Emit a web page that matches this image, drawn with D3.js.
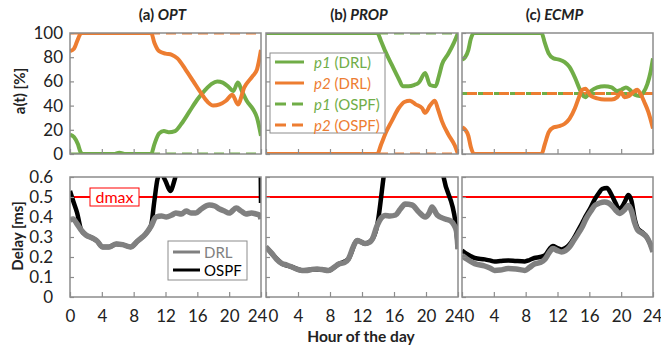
<!DOCTYPE html>
<html>
<head>
<meta charset="utf-8">
<script src="https://cdn.jsdelivr.net/npm/d3@7"></script>
<style>
  body { margin: 0; background: #fff; }
  svg { display: block; font-family: Lato, "Open Sans", sans-serif; }
</style>
</head>
<body>
<div id="chart"></div>
<script>
// hours on x, share [%] on top row, delay [ms] on bottom row

var hourTicks = [0, 4, 8, 12, 16, 20, 24];
var shareTicks = [0, 20, 40, 60, 80, 100];
var delayTicks = [0, 0.1, 0.2, 0.3, 0.4, 0.5, 0.6];
var panelTitles = ["(a) ", "(b) ", "(c) "];
var panelNames = ["OPT", "PROP", "ECMP"];
var dmax = 0.5;

// ---- a(t) series, [hour, %] ----
var optP1Drl = [[0,16],[0.5,14],[1,8],[1.3,2],[1.6,0],[5.5,0],[6.2,1],[7,0],[10.2,0],[10.6,8],[11.2,17],[11.8,19],[12.4,18],[13.2,19],[14,25],[15,35],[16,45],[17,53],[17.8,58],[18.5,60],[19.2,59],[20,55],[20.5,52],[21.1,59],[21.6,52],[22.2,44],[23,37],[23.5,30],[24,15]];
var optP2Drl = [[0,85],[0.5,87],[1,95],[1.4,100],[10.2,100],[10.6,92],[11.2,85],[12,83],[12.8,82],[13.5,79],[14.5,70],[15.5,60],[16.5,50],[17.3,43],[18,40],[18.8,41],[19.6,44],[20.4,49],[21.1,41],[21.9,55],[22.9,64],[23.5,70],[24,86]];
var optP1Ospf = [[0,0],[24,0]];
var optP2Ospf = [[0,100],[24,100]];

var propP1Drl = [[0,100],[13.9,100],[14.4,93],[14.9,85],[15.7,74],[16.6,62],[17.1,56],[17.8,56],[18.5,57],[19.1,59],[19.9,67],[20.5,57],[21.2,56],[21.6,64],[22,74],[22.8,83],[23.5,92],[24,100]];
var propP2Drl = [[0,0],[13.9,0],[14.4,8],[15,18],[15.7,27],[16.6,38],[17.3,43],[18,44],[18.7,41],[19.5,38],[19.9,34],[20.5,40],[21.1,44],[21.5,37],[22,27],[22.8,16],[23.6,7],[24,0]];
var propP1Ospf = [[0,100],[24,100]];
var propP2Ospf = [[0,0],[24,0]];

var ecmpP1Drl = [[0,78],[0.4,80],[0.8,86],[1.1,95],[1.5,100],[10,100],[10.4,92],[10.9,83],[11.5,79],[12.2,78],[12.9,76],[13.5,72],[14.2,63],[14.7,55],[15.1,49],[15.5,47],[16.2,52],[17,55],[17.9,56],[18.8,55],[19.5,52],[20,53],[20.6,55],[21.1,53],[21.7,49],[22.3,48],[22.8,51],[23.3,58],[23.7,68],[24,79]];
var ecmpP2Drl = [[0,22],[0.4,20],[0.8,15],[1.1,6],[1.5,0],[10,0],[10.4,8],[10.9,18],[11.5,22],[12.2,23],[12.9,25],[13.5,29],[14.2,38],[14.7,47],[15.1,53],[15.5,54],[16.2,48],[17,46],[17.9,45],[18.8,45],[19.5,47],[20,51],[20.4,47],[21,48],[21.5,51],[22,53],[22.4,50],[22.9,43],[23.4,35],[24,21]];
var ecmpP1Ospf = [[0,50],[24,50]];
var ecmpP2Ospf = [[0,50],[24,50]];

// ---- delay series, [hour, ms] ----
var optDelayDrl = [[0,0.385],[0.4,0.39],[0.8,0.37],[1.4,0.335],[2,0.31],[2.8,0.295],[3.4,0.28],[4.1,0.25],[4.9,0.25],[5.8,0.265],[6.6,0.262],[7.6,0.25],[8.5,0.28],[9.5,0.315],[10.2,0.355],[10.8,0.4],[11.5,0.405],[12.1,0.4],[12.8,0.41],[13.3,0.42],[14,0.415],[14.6,0.43],[15.2,0.42],[15.8,0.42],[16.5,0.44],[17.5,0.46],[18.2,0.455],[18.8,0.44],[19.4,0.43],[20,0.42],[20.9,0.445],[21.5,0.43],[22.1,0.415],[22.8,0.42],[23.4,0.415],[23.8,0.41],[24,0.39]];
var optDelayOspf = [[0,0.53],[0.4,0.48],[0.9,0.42],[1.4,0.335],[2,0.31],[2.8,0.295],[3.4,0.28],[4.1,0.25],[4.9,0.25],[5.8,0.265],[6.6,0.262],[7.6,0.25],[8.5,0.28],[9.5,0.315],[10.2,0.36],[10.6,0.48],[11,0.59],[11.4,0.62],[12,0.58],[12.6,0.53],[13.1,0.58],[13.6,0.66],[14.2,0.75],[23.5,0.75],[23.95,0.65],[24,0.47]];

var propDelayDrl = [[0,0.25],[0.75,0.217],[1.3,0.19],[2,0.167],[2.6,0.16],[3.25,0.15],[3.8,0.14],[4.5,0.133],[5.2,0.133],[5.75,0.138],[6.4,0.14],[7,0.137],[7.8,0.133],[8.5,0.148],[9.1,0.165],[9.8,0.172],[10.3,0.19],[10.9,0.25],[11.4,0.283],[11.9,0.275],[12.4,0.267],[13,0.275],[13.3,0.29],[13.9,0.358],[14.4,0.395],[14.9,0.408],[15.5,0.405],[16.2,0.41],[16.8,0.44],[17.4,0.465],[18.25,0.46],[19.1,0.425],[19.9,0.4],[20.4,0.42],[20.75,0.45],[21.4,0.41],[22.4,0.39],[23.1,0.38],[23.5,0.36],[23.8,0.33],[24,0.24]];
var propDelayOspf = [[0,0.25],[0.75,0.217],[2,0.167],[3.25,0.15],[4.5,0.133],[5.75,0.138],[7,0.137],[7.8,0.133],[9.1,0.165],[10.3,0.19],[11.4,0.283],[12.4,0.267],[13.3,0.29],[13.9,0.358],[14.7,0.6],[15.2,0.75],[21.6,0.75],[22.2,0.6],[23.7,0.37],[24,0.24]];

var ecmpDelayDrl = [[0,0.208],[0.6,0.19],[1.6,0.167],[2.85,0.155],[3.5,0.145],[4.1,0.133],[4.8,0.135],[5.8,0.142],[6.8,0.14],[7.9,0.133],[8.5,0.148],[9.1,0.165],[9.8,0.172],[10.4,0.188],[11,0.225],[11.4,0.242],[12,0.232],[12.5,0.225],[13,0.232],[13.5,0.25],[14,0.28],[14.6,0.317],[15.1,0.35],[15.6,0.392],[16.2,0.43],[16.7,0.458],[17.3,0.47],[17.9,0.475],[18.4,0.47],[18.8,0.458],[19.3,0.435],[19.8,0.417],[20.4,0.435],[20.9,0.458],[21.3,0.43],[21.7,0.37],[22.1,0.333],[22.6,0.32],[23.2,0.3],[23.6,0.27],[24,0.225]];
var ecmpDelayOspf = [[0,0.233],[0.6,0.215],[1.6,0.195],[2.85,0.188],[3.5,0.183],[4.1,0.178],[4.8,0.18],[5.8,0.183],[6.8,0.18],[7.9,0.178],[8.5,0.185],[9.1,0.195],[9.8,0.2],[10.4,0.208],[11,0.24],[11.4,0.255],[12,0.245],[12.5,0.238],[13,0.245],[13.5,0.262],[14,0.29],[14.6,0.333],[15.1,0.37],[15.6,0.408],[16.2,0.45],[16.7,0.49],[17.2,0.52],[17.6,0.54],[18.2,0.545],[18.8,0.51],[19.3,0.47],[19.7,0.44],[20.1,0.45],[20.5,0.48],[20.9,0.51],[21.3,0.48],[21.7,0.39],[22.1,0.342],[22.6,0.325],[23.2,0.3],[23.6,0.27],[24,0.233]];

var shareSeries = [
  {p1: optP1Drl, p2: optP2Drl, p1o: optP1Ospf, p2o: optP2Ospf},
  {p1: propP1Drl, p2: propP2Drl, p1o: propP1Ospf, p2o: propP2Ospf},
  {p1: ecmpP1Drl, p2: ecmpP2Drl, p1o: ecmpP1Ospf, p2o: ecmpP2Ospf}
];
var delaySeries = [
  {drl: optDelayDrl, ospf: optDelayOspf},
  {drl: propDelayDrl, ospf: propDelayOspf},
  {drl: ecmpDelayDrl, ospf: ecmpDelayOspf}
];

var green = "#70ad47", orange = "#ed7d31", grey = "#808080", frameCol = "#8c8c8c";

var width = 661, height = 347;
var panelX = [[70, 261], [266, 458], [462, 653]];
var topY = [33, 154], botY = [177, 297];

var svg = d3.select("#chart").append("svg")
    .attr("width", width)
    .attr("height", height);

var yShare = d3.scaleLinear().domain([0, 100]).range([topY[1], topY[0]]);
var yDelay = d3.scaleLinear().domain([0, 0.6]).range([botY[1], botY[0]]);

panelX.forEach(function(px, i) {
  var x = d3.scaleLinear().domain([0, 24]).range(px);

  // clip rects
  svg.append("clipPath").attr("id", "clipT" + i)
    .append("rect").attr("x", px[0]).attr("y", topY[0])
      .attr("width", px[1] - px[0]).attr("height", topY[1] - topY[0]);
  svg.append("clipPath").attr("id", "clipB" + i)
    .append("rect").attr("x", px[0]).attr("y", botY[0])
      .attr("width", px[1] - px[0]).attr("height", botY[1] - botY[0]);

  // title
  var t = svg.append("text")
      .attr("x", (px[0] + px[1]) / 2 - 3)
      .attr("y", 20)
      .attr("text-anchor", "middle")
      .attr("font-size", 15)
      .attr("font-weight", "bold")
      .attr("fill", "#222");
  t.append("tspan").text(panelTitles[i]);
  t.append("tspan").attr("font-style", "italic").text(panelNames[i]);

  // ---- top panel ----
  var lineS = d3.line()
      .x(function(d) { return x(d[0]); })
      .y(function(d) { return yShare(d[1]); })
      .curve(d3.curveMonotoneX);

  var gT = svg.append("g").attr("clip-path", "url(#clipT" + i + ")");
  var s = shareSeries[i];
  gT.append("path").datum(s.p1o)
      .attr("d", lineS).attr("fill", "none")
      .attr("stroke", green).attr("stroke-width", 3)
      .attr("stroke-dasharray", "10,6");
  gT.append("path").datum(s.p2o)
      .attr("d", lineS).attr("fill", "none")
      .attr("stroke", orange).attr("stroke-width", 3)
      .attr("stroke-dasharray", "10,6")
      .attr("stroke-dashoffset", i == 2 ? 11 : 0);
  gT.append("path").datum(s.p1)
      .attr("d", lineS).attr("fill", "none")
      .attr("stroke", green).attr("stroke-width", 4);
  gT.append("path").datum(s.p2)
      .attr("d", lineS).attr("fill", "none")
      .attr("stroke", orange).attr("stroke-width", 4);

  // ---- bottom panel ----
  var lineD = d3.line()
      .x(function(d) { return x(d[0]); })
      .y(function(d) { return yDelay(d[1]); })
      .curve(d3.curveMonotoneX);

  var gB = svg.append("g").attr("clip-path", "url(#clipB" + i + ")");
  gB.append("line")
      .attr("x1", px[0]).attr("x2", px[1])
      .attr("y1", yDelay(dmax)).attr("y2", yDelay(dmax))
      .attr("stroke", "#ff0000").attr("stroke-width", 2);
  gB.append("path").datum(delaySeries[i].ospf)
      .attr("d", lineD).attr("fill", "none")
      .attr("stroke", "#000").attr("stroke-width", 4.5);
  gB.append("path").datum(delaySeries[i].drl)
      .attr("d", lineD).attr("fill", "none")
      .attr("stroke", grey).attr("stroke-width", 5.5);

  // axes, ticks pointing inward
  var axT = svg.append("g")
      .attr("transform", "translate(0," + topY[1] + ")")
      .call(d3.axisBottom(x).tickValues(hourTicks).tickSize(-5).tickFormat(""));
  var axB = svg.append("g")
      .attr("transform", "translate(0," + botY[1] + ")")
      .call(d3.axisBottom(x).tickValues(hourTicks).tickSize(-5).tickPadding(13));
  var ayT = svg.append("g")
      .attr("transform", "translate(" + px[0] + ",0)")
      .call(d3.axisLeft(yShare).tickValues(shareTicks).tickSize(-4).tickPadding(7)
        .tickFormat(i == 0 ? d3.format("d") : ""));
  var ayB = svg.append("g")
      .attr("transform", "translate(" + px[0] + ",0)")
      .call(d3.axisLeft(yDelay).tickValues(delayTicks).tickSize(-4).tickPadding(17)
        .tickFormat(i == 0 ? function(d) { return d == 0 ? "0" : d3.format(".1f")(d); } : ""));

  [axT, axB, ayT, ayB].forEach(function(a) {
    a.select(".domain").remove();
    a.selectAll(".tick line").attr("stroke", frameCol).attr("stroke-width", 1.2);
    a.selectAll(".tick text")
      .attr("font-family", "Lato, 'Open Sans', sans-serif")
      .attr("font-size", 17).attr("fill", "#222");
  });

  // edge hour labels nudged apart where panels meet
  axB.selectAll(".tick text")
    .attr("x", function(d) {
      if (d == 0 && i > 0) return 7;
      if (d == 24 && i < 2) return -4;
      if (d == 24) return -1;
      return 0;
    });

  // frames
  [topY, botY].forEach(function(yy) {
    svg.append("rect")
      .attr("x", px[0]).attr("y", yy[0])
      .attr("width", px[1] - px[0]).attr("height", yy[1] - yy[0])
      .attr("fill", "none").attr("stroke", frameCol).attr("stroke-width", 1.5);
  });
});

// dmax label
var dx = 90, dw = 49;
svg.append("rect")
    .attr("x", dx).attr("y", yDelay(dmax) - 9)
    .attr("width", dw).attr("height", 18)
    .attr("fill", "#fff").attr("stroke", "#ff0000").attr("stroke-width", 1);
svg.append("text")
    .attr("x", dx + dw / 2).attr("y", yDelay(dmax) + 5.5)
    .attr("text-anchor", "middle")
    .attr("font-size", 16).attr("fill", "#ff0000")
    .text("dmax");

// axis titles
svg.append("text")
    .attr("transform", "translate(25," + 91 + ") rotate(-90)")
    .attr("text-anchor", "middle")
    .attr("font-size", 15).attr("font-weight", "bold").attr("fill", "#222")
    .text("a(t) [%]");
svg.append("text")
    .attr("transform", "translate(23," + 236 + ") rotate(-90)")
    .attr("text-anchor", "middle")
    .attr("font-size", 15).attr("font-weight", "bold").attr("fill", "#222")
    .text("Delay [ms]");
svg.append("text")
    .attr("x", 361).attr("y", 342)
    .attr("text-anchor", "middle")
    .attr("font-size", 15.5).attr("font-weight", "bold").attr("fill", "#222")
    .text("Hour of the day");

// legend, share panels
var legShare = [
  {name: "p1", tag: " (DRL)", color: green, dash: null},
  {name: "p2", tag: " (DRL)", color: orange, dash: null},
  {name: "p1", tag: " (OSPF)", color: green, dash: "11,6"},
  {name: "p2", tag: " (OSPF)", color: orange, dash: "11,6"}
];
svg.append("rect")
    .attr("x", 270).attr("y", 53).attr("width", 115).attr("height", 80)
    .attr("fill", "#fff").attr("stroke", frameCol).attr("stroke-width", 1);
var lg = svg.selectAll(".legS")
    .data(legShare)
  .enter().append("g")
    .attr("class", "legS")
    .attr("transform", function(d, i) { return "translate(0," + (62 + i * 21) + ")"; });
lg.append("line")
    .attr("x1", 275).attr("x2", 304)
    .attr("stroke", function(d) { return d.color; })
    .attr("stroke-width", 3)
    .attr("stroke-dasharray", function(d) { return d.dash; });
var lt = lg.append("text")
    .attr("x", 314).attr("y", 5.5)
    .attr("font-size", 15)
    .attr("fill", function(d) { return d.color; });
lt.append("tspan").attr("font-style", "italic").text(function(d) { return d.name; });
lt.append("tspan").text(function(d) { return d.tag; });

// legend, delay panels
var legDelay = [
  {name: "DRL", color: grey},
  {name: "OSPF", color: "#000"}
];
svg.append("rect")
    .attr("x", 168).attr("y", 241).attr("width", 79).attr("height", 39)
    .attr("fill", "#fff").attr("stroke", frameCol).attr("stroke-width", 1);
var lg2 = svg.selectAll(".legD")
    .data(legDelay)
  .enter().append("g")
    .attr("class", "legD")
    .attr("transform", function(d, i) { return "translate(0," + (252 + i * 18) + ")"; });
lg2.append("line")
    .attr("x1", 173).attr("x2", 200)
    .attr("stroke", function(d) { return d.color; })
    .attr("stroke-width", 3);
lg2.append("text")
    .attr("x", 204).attr("y", 5.5)
    .attr("font-size", 15)
    .attr("fill", function(d) { return d.color; })
    .text(function(d) { return d.name; });
</script>
</body>
</html>
